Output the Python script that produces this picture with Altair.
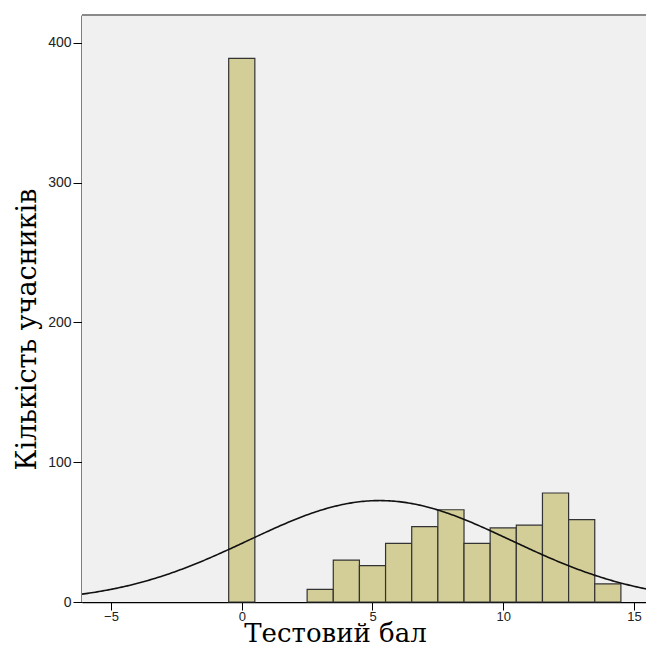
import altair as alt
import numpy as np
import pandas as pd

# Histogram data (score bins of width 1, centred on integer scores)
bin_centers = [0, 3, 4, 5, 6, 7, 8, 9, 10, 11, 12, 13, 14]
counts = [389, 9, 30, 26, 42, 54, 66, 42, 53, 55, 78, 59, 13]
x_ticks = [-5, 0, 5, 10, 15]
y_ticks = [0, 100, 200, 300, 400]
x_title = "Тестовий бал"
y_title = "Кількість учасників"

X_DOMAIN = [-6.11, 15.46]
Y_DOMAIN = [0, 420]
BIN_W = 1.0
W, H = 564, 587

bars = pd.DataFrame({
    "start": [c - BIN_W / 2 for c in bin_centers],
    "end": [c + BIN_W / 2 for c in bin_centers],
    "count": counts,
})

# Fitted normal curve (as drawn by SPSS) from the histogram's own mean and SD
vals = np.repeat(np.array(bin_centers, dtype=float), counts)
n = vals.size
mu = vals.mean()
sd = vals.std(ddof=1)
xs = np.linspace(X_DOMAIN[0], X_DOMAIN[1], 300)
ys = n * BIN_W / (sd * np.sqrt(2 * np.pi)) * np.exp(-0.5 * ((xs - mu) / sd) ** 2)
curve = pd.DataFrame({"x": xs, "y": ys})

xscale = alt.Scale(domain=X_DOMAIN, nice=False, zero=False)
yscale = alt.Scale(domain=Y_DOMAIN, nice=False)

bg = alt.Chart(pd.DataFrame({"a": [0]})).mark_rect(fill="#F0F0F0").encode(
    x=alt.value(0), x2=alt.value(W), y=alt.value(0), y2=alt.value(H)
)

top_border = alt.Chart(pd.DataFrame({"a": [0]})).mark_rule(
    color="#8a8a8a", strokeWidth=2
).encode(x=alt.value(0), x2=alt.value(W), y=alt.value(0))

TITLE_FONT = "DejaVu Serif"

hist = alt.Chart(bars).mark_bar(
    fill="#D3CE97", stroke="#333333", strokeWidth=1.2
).encode(
    x=alt.X("start:Q", scale=xscale,
            axis=alt.Axis(values=x_ticks, title=x_title, grid=False,
                          tickSize=8, tickColor="#000", domainColor="#000",
                          domainWidth=1.5, labelFont="Liberation Sans",
                          labelFontSize=13, labelColor="#222", labelPadding=0,
                          titleFont=TITLE_FONT, titleFontSize=26,
                          titleFontWeight="normal", titleColor="#000",
                          titleX=253, titleY=39, titleAlign="center",
                          titleBaseline="alphabetic", titleAnchor="start")),
    x2="end:Q",
    y=alt.Y("count:Q", scale=yscale,
            axis=alt.Axis(values=y_ticks, title=y_title, grid=False,
                          tickSize=9, tickColor="#000", domainColor="#000",
                          domainWidth=2, labelFont="Liberation Sans",
                          labelFontSize=14, labelColor="#222", labelPadding=2,
                          titleFont=TITLE_FONT, titleFontSize=27,
                          titleFontWeight="normal", titleColor="#000",
                          titleAngle=270, titleX=-55, titleY=314,
                          titleAlign="center", titleBaseline="middle",
                          titleAnchor="start")),
    y2=alt.datum(0),
)

line = alt.Chart(curve).mark_line(color="#111", strokeWidth=1.6, clip=True).encode(
    x=alt.X("x:Q", scale=xscale),
    y=alt.Y("y:Q", scale=yscale),
)

chart = alt.layer(bg, top_border, hist, line).properties(
    width=W,
    height=H,
    autosize=alt.AutoSizeParams(type="none"),
    padding={"left": 74, "top": 7, "right": 0, "bottom": 43},
    background="white",
).configure_view(stroke=None)

chart.save("out.html", embed_options={"renderer": "svg", "actions": False})
